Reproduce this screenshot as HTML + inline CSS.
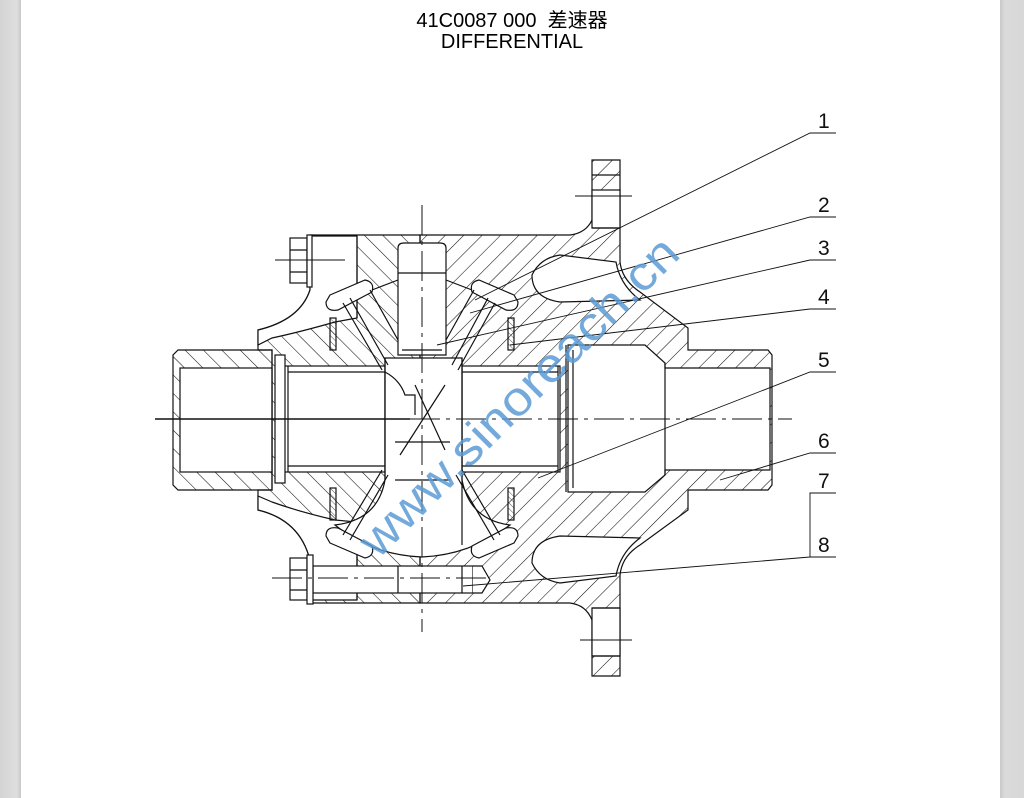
<!DOCTYPE html>
<html><head><meta charset="utf-8"><style>
html,body{margin:0;padding:0;width:1024px;height:798px;overflow:hidden;background:#fff}
.bg{position:absolute;left:0;top:0;width:1024px;height:798px;background:#fff}
.gl{position:absolute;left:0;top:0;width:21px;height:798px;background:linear-gradient(90deg,#d4d4d4,#dedede 80%,#c8c8c8)}
.gr{position:absolute;left:1000px;top:0;width:24px;height:798px;background:linear-gradient(90deg,#c8c8c8,#dadada 20%,#d8d8d8)}
.t{position:absolute;left:0;width:1024px;text-align:center;font-family:"Liberation Sans","Noto Sans CJK SC",sans-serif;font-size:20px;color:#000}
svg{position:absolute;left:0;top:0}
</style></head><body>
<div class="bg"></div><div class="gl"></div><div class="gr"></div>
<div class="t" style="top:4px;left:0px">41C0087 000&nbsp; 差速器</div>
<div class="t" style="top:31px;left:0px">DIFFERENTIAL</div>
<svg width="1024" height="798" viewBox="0 0 1024 798">
<defs>
<pattern id="hb" patternUnits="userSpaceOnUse" width="13" height="13" patternTransform="rotate(45)">
<line x1="0" y1="0" x2="0" y2="13" stroke="#111" stroke-width="1.1"/></pattern>
<pattern id="hf" patternUnits="userSpaceOnUse" width="13" height="13" patternTransform="rotate(-45)">
<line x1="0" y1="0" x2="0" y2="13" stroke="#111" stroke-width="1.1"/></pattern>
<pattern id="hs" patternUnits="userSpaceOnUse" width="4" height="4" patternTransform="rotate(-45)">
<line x1="0" y1="0" x2="0" y2="4" stroke="#111" stroke-width="0.7"/></pattern>
</defs>
<g fill="none" stroke="#111" stroke-width="1.2">
<path d="M178,350 H272 V490 H178 L173,485 V355 Z" fill="url(#hf)"/>
<rect x="180" y="368" width="92" height="104" fill="#fff"/>
<path d="M420,235 H570 Q586,233 592,220 V160 H620 V262 Q622,280 640,292 L688,328 V350 H768 L772,355 V485 L768,490 H688 V510 L640,545 Q622,556 620,575 V676 H592 V620 Q586,605 570,603 H420 Z" fill="url(#hb)"/>
<path d="M420,235 H310 V290 Q300,320 258,330 V350 H272 V490 H258 V510 Q300,520 310,560 V603 H420 Z" fill="url(#hf)"/>
<path d="M310,236 H357 V318 L335,322 Q300,332 272,338 L258,345 V330 Q300,320 310,290 Z" fill="#fff"/>
<path d="M310,600 H357 V522 L335,520 Q300,512 272,502 L258,496 V510 Q300,520 310,560 Z" fill="#fff"/>
<line x1="357" y1="236" x2="357" y2="318"/>
<line x1="357" y1="522" x2="357" y2="600"/>
<rect x="592" y="190" width="28" height="38" fill="#fff"/>
<line x1="592" y1="175" x2="620" y2="175"/><line x1="592" y1="228" x2="620" y2="228"/>
<rect x="592" y="608" width="28" height="48" fill="#fff"/>
<line x1="592" y1="608" x2="620" y2="608"/><line x1="592" y1="656" x2="620" y2="656"/>
<path d="M560,255 Q540,258 532,275 Q532,298 560,302 L640,300 Q620,285 616,262 Z" fill="#fff"/>
<path d="M560,583 Q540,580 532,563 Q532,540 560,536 L640,538 Q620,553 616,576 Z" fill="#fff"/>
<path d="M568,345 H645 L665,363 V368 H770 V470 H665 V475 L645,492 H568 Z" fill="#fff"/>
<line x1="665" y1="363" x2="665" y2="475"/>
<line x1="566" y1="345" x2="566" y2="492"/>
<line x1="573" y1="350" x2="573" y2="488"/>
<rect x="283" y="366" width="102" height="106" fill="#fff"/>
<line x1="288" y1="372" x2="385" y2="372"/><line x1="288" y1="466" x2="385" y2="466"/>
<line x1="288" y1="366" x2="288" y2="472"/>
<rect x="462" y="366" width="98" height="106" fill="#fff"/>
<line x1="462" y1="372" x2="558" y2="372"/><line x1="462" y1="466" x2="558" y2="466"/>
<line x1="558" y1="366" x2="558" y2="472"/>
<rect x="275" y="355" width="10" height="128" fill="#fff"/>
<path d="M385,358 H462 V480 Q470,520 510,525 Q470,555 422,557 Q372,555 335,525 Q378,520 385,480 Z" fill="#fff"/>
<path d="M398,248 Q398,243 404,243 H440 Q446,243 446,248 V355 H398 Z" fill="#fff"/>
<line x1="398" y1="273" x2="446" y2="273"/><line x1="402" y1="350" x2="442" y2="350"/>
<path d="M330,295 L365,280 Q375,282 372,292 L338,310 Q326,312 326,302 Z" fill="#fff"/>
<path d="M514,295 L479,280 Q469,282 472,292 L506,310 Q518,312 518,302 Z" fill="#fff"/>
<path d="M330,543 L365,558 Q375,556 372,546 L338,528 Q326,526 326,536 Z" fill="#fff"/>
<path d="M514,543 L479,558 Q469,556 472,546 L506,528 Q518,526 518,536 Z" fill="#fff"/>
<rect x="330" y="318" width="6" height="32" fill="url(#hs)"/>
<rect x="508" y="318" width="6" height="32" fill="url(#hs)"/>
<rect x="330" y="488" width="6" height="32" fill="url(#hs)"/>
<rect x="508" y="488" width="6" height="32" fill="url(#hs)"/>
<path d="M343,303 L382,370 M350,298 L388,365 M370,290 L398,340 M495,303 L458,370 M488,298 L452,365 M474,290 L446,340"/>
<path d="M343,535 L382,470 M350,540 L388,475 M500,535 L462,470 M494,540 L456,475"/>
<path d="M372,290 L398,280 M472,290 L446,280"/>
<line x1="462" y1="358" x2="462" y2="545"/><line x1="385" y1="358" x2="385" y2="480"/>
<path d="M385,372 Q400,380 405,395 H415 V415"/>
<line x1="415" y1="385" x2="445" y2="450"/><line x1="445" y1="385" x2="400" y2="455"/>
<line x1="395" y1="442" x2="450" y2="442"/><line x1="395" y1="480" x2="450" y2="480"/>
<rect x="290" y="238" width="17" height="45" fill="#fff"/>
<line x1="290" y1="250" x2="307" y2="250"/><line x1="290" y1="272" x2="307" y2="272"/>
<rect x="307" y="235" width="5" height="52" fill="#fff"/>
<rect x="313" y="566" width="160" height="27" fill="#fff"/>
<line x1="398" y1="566" x2="398" y2="593"/><line x1="462" y1="566" x2="462" y2="593"/>
<path d="M473,566 L482,566 L490,580 L482,593 L473,593" fill="#fff"/>
<rect x="290" y="558" width="17" height="42" fill="#fff"/>
<line x1="290" y1="570" x2="307" y2="570"/><line x1="290" y1="590" x2="307" y2="590"/>
<rect x="307" y="555" width="6" height="49" fill="#fff"/>
</g>
<g stroke="#111" stroke-width="1" fill="none">
<line x1="155" y1="419" x2="410" y2="419" stroke-width="1.6"/>
<line x1="410" y1="419" x2="792" y2="419" stroke-dasharray="30,6,4,6"/>
<line x1="422" y1="205" x2="422" y2="632" stroke-dasharray="30,6,4,6"/>
<line x1="275" y1="260" x2="345" y2="260"/>
<line x1="272" y1="578" x2="490" y2="578" stroke-dasharray="30,6,4,6"/>
<line x1="575" y1="196" x2="632" y2="196"/>
<line x1="580" y1="640" x2="632" y2="640"/>
</g>
<g stroke="#111" stroke-width="0.9" fill="none">
<path d="M836,133 H810 L475,300"/>
<path d="M836,217 H810 L470,313"/>
<path d="M836,260 H810 L437,345"/>
<path d="M836,309 H810 L510,345"/>
<path d="M836,372 H810 L538,478"/>
<path d="M836,453 H810 L720,480"/>
<path d="M836,493 H810 V557 H836 M810,557 L463,586"/>
</g>
<g font-family="Liberation Sans Narrow, Liberation Sans, sans-serif" font-size="21" fill="#111">
<text x="818" y="128">1</text><text x="818" y="212">2</text><text x="818" y="255">3</text>
<text x="818" y="304">4</text><text x="818" y="367">5</text><text x="818" y="448">6</text>
<text x="818" y="488">7</text><text x="818" y="552">8</text>
</g>
<text x="0" y="0" transform="translate(378,560) rotate(-45)" font-family="Liberation Sans, sans-serif" font-size="48" fill="#5b9bd5" fill-opacity="0.85" textLength="430" lengthAdjust="spacingAndGlyphs">www.sinoreach.cn</text>
</svg>
</body></html>
